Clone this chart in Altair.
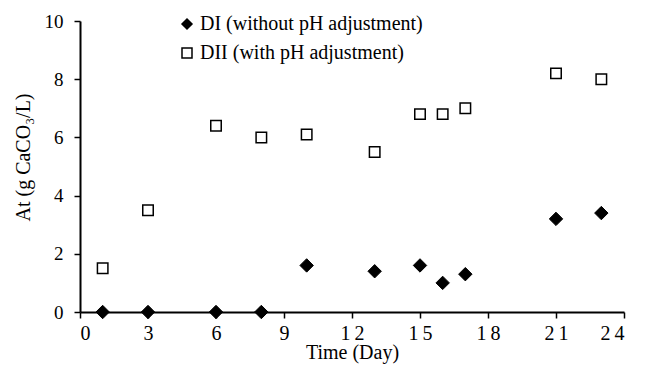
import altair as alt
import pandas as pd

days = [1, 3, 6, 8, 10, 13, 15, 16, 17, 21, 23]
di_values = [0, 0, 0, 0, 1.6, 1.4, 1.6, 1.0, 1.3, 3.2, 3.4]
dii_values = [1.5, 3.5, 6.4, 6.0, 6.1, 5.5, 6.8, 6.8, 7.0, 8.2, 8.0]
series_names = ["DI (without pH adjustment)", "DII (with pH adjustment)"]
x_ticks = [0, 3, 6, 9, 12, 15, 18, 21, 24]
y_ticks = [0, 2, 4, 6, 8, 10]

rows = []
for d, v in zip(days, di_values):
    rows.append({"day": d, "value": v, "series": series_names[0]})
for d, v in zip(days, dii_values):
    rows.append({"day": d, "value": v, "series": series_names[1]})
df = pd.DataFrame(rows)

FONT = "Liberation Serif"

axis_common = dict(grid=False, domainColor="black", domainWidth=2, tickColor="black",
                   tickWidth=1.5, tickSize=6, labelFont=FONT, labelColor="black",
                   titleFont=FONT, titleFontWeight="normal", titleColor="black")

x = alt.X("day:Q", scale=alt.Scale(domain=[0, 24], nice=False),
          axis=alt.Axis(values=x_ticks, title="Time (Day)", titlePadding=-1,
                        titleFontSize=20, labelFontSize=20, labelPadding=5,
                        labelExpr="length(datum.label) > 1 ? slice(datum.label, 0, 1) + '\u2009' + slice(datum.label, 1) : datum.label",
                        **axis_common))
y = alt.Y("value:Q", scale=alt.Scale(domain=[0, 10], nice=False),
          axis=alt.Axis(values=y_ticks, title="At (g CaCO₃/L)", titleX=-57, titleY=136,
                        titleAngle=-90, titleAlign="center", titleBaseline="middle",
                        titleFontSize=20, labelFontSize=19, labelPadding=11,
                        **axis_common))
shape = alt.Shape("series:N", scale=alt.Scale(domain=series_names, range=["diamond", "square"]),
                  legend=alt.Legend(title=None, orient="none", legendX=97, legendY=-7,
                                    symbolSize=100, rowPadding=9, labelOffset=3,
                                    symbolStrokeWidth=1.5, labelFont=FONT,
                                    labelFontSize=20, labelColor="black", labelLimit=500))
fill = alt.Fill("series:N", scale=alt.Scale(domain=series_names, range=["black", "white"]))
stroke = alt.Stroke("series:N", scale=alt.Scale(domain=series_names, range=["black", "black"]))

base = alt.Chart(df).encode(x=x, y=y, shape=shape, fill=fill, stroke=stroke)

di = base.transform_filter(alt.datum.series == series_names[0]).mark_point(
    filled=True, size=180, strokeWidth=1, opacity=1)
dii = base.transform_filter(alt.datum.series == series_names[1]).mark_point(
    filled=True, size=110, strokeWidth=1.5, opacity=1)

chart = alt.layer(di, dii).properties(
    width=544, height=291,
    autosize=alt.AutoSizeParams(type="none"),
    padding={"left": 72, "top": 13, "right": 14, "bottom": 53},
).configure_view(stroke=None)

chart.save("out.html", embed_options={"renderer": "svg", "actions": False})
